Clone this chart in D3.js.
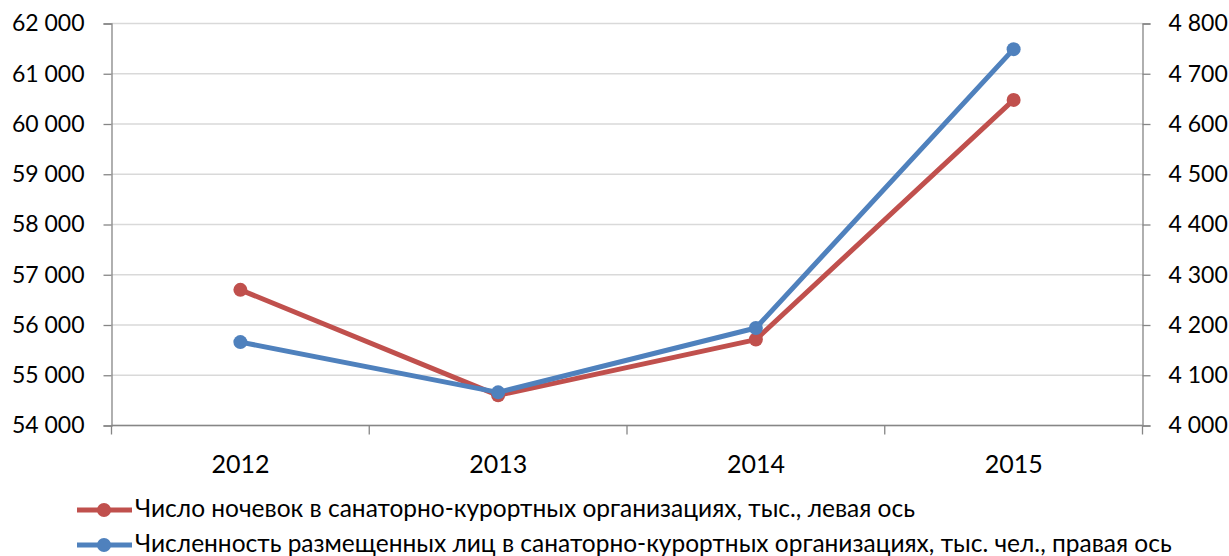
<!DOCTYPE html>
<html><head><meta charset="utf-8">
<script src="https://cdn.jsdelivr.net/npm/d3@7"></script>
<style>
html,body{margin:0;padding:0;background:#fff;}
text{font-family:Lato,"Open Sans",sans-serif;fill:#000;}
</style></head>
<body><svg id="c" width="1229" height="556"></svg>
<script>
const categories = ["2012","2013","2014","2015"];
const nightsValues = [56700, 54600, 55710, 60480];   // left axis
const guestsValues = [4166, 4066, 4194, 4749];       // right axis
const leftTicks = [54000,55000,56000,57000,58000,59000,60000,61000,62000];
const rightTicks = [4000,4100,4200,4300,4400,4500,4600,4700,4800];
const seriesNames = [
  "Число ночевок в санаторно-курортных организациях, тыс., левая ось",
  "Численность размещенных лиц в санаторно-курортных организациях, тыс. чел., правая ось"
];
const colors = ["#C0504D", "#4F81BD"];

const svg = d3.select("#c");
const L = 111.5, R = 1142.5, T = 23.5, B = 425.5;
const x = d3.scaleBand().domain(categories).range([L, R]);
const yL = d3.scaleLinear().domain([54000, 62000]).range([B, T]);
const yR = d3.scaleLinear().domain([4000, 4800]).range([B, T]);
const fmt = v => d3.format(",")(v).replace(/,/g, "\u00a0");

// gridlines
svg.append("g").selectAll("line").data(leftTicks).join("line")
  .attr("x1", L).attr("x2", R).attr("y1", d => yL(d)).attr("y2", d => yL(d))
  .attr("stroke", "#D9D9D9").attr("stroke-width", 1.3);

// left axis
const gL = svg.append("g").attr("transform", `translate(${L},0)`)
  .call(d3.axisLeft(yL).tickValues(leftTicks).tickFormat(fmt).tickSize(8).tickPadding(19));
// right axis
const gR = svg.append("g").attr("transform", `translate(${R},0)`)
  .call(d3.axisRight(yR).tickValues(rightTicks).tickFormat(fmt).tickSize(8).tickPadding(18));
// bottom axis
const gB = svg.append("g").attr("transform", `translate(0,${B})`)
  .call(d3.axisBottom(x).tickSize(0).tickPadding(30));
// category boundary ticks
svg.append("g").selectAll("line").data(d3.range(categories.length + 1)).join("line")
  .attr("x1", i => L + i * x.step()).attr("x2", i => L + i * x.step())
  .attr("y1", B).attr("y2", B + 9).attr("stroke", "#868686").attr("stroke-width", 1.3);

[gL, gR, gB].forEach(g => {
  g.selectAll("path.domain").attr("stroke", "#868686").attr("stroke-width", 1.3);
  g.selectAll(".tick line").attr("stroke", "#868686").attr("stroke-width", 1.3);
  g.selectAll("text").style("font-family", "Lato, 'Open Sans', sans-serif")
    .style("font-size", "23px").attr("fill", "#000");
});
gB.selectAll("text").style("font-size", "25px");
gB.selectAll("path.domain").attr("d", `M${L},0H${R}`);

const cx = c => x(c) + x.bandwidth() / 2;
const series = [
  { vals: nightsValues, y: yL, color: colors[0] },
  { vals: guestsValues, y: yR, color: colors[1] }
];
series.forEach(s => {
  const pts = categories.map((c, i) => [cx(c), s.y(s.vals[i])]);
  svg.append("path").attr("d", d3.line()(pts)).attr("fill", "none")
    .attr("stroke", s.color).attr("stroke-width", 5).attr("stroke-linejoin", "round");
  svg.append("g").selectAll("circle").data(pts).join("circle")
    .attr("cx", d => d[0]).attr("cy", d => d[1]).attr("r", 7).attr("fill", s.color);
});

// legend
const leg = svg.append("g");
seriesNames.forEach((name, i) => {
  const yy = 510 + i * 35;
  leg.append("line").attr("x1", 77).attr("x2", 132).attr("y1", yy).attr("y2", yy)
    .attr("stroke", colors[i]).attr("stroke-width", 5);
  leg.append("circle").attr("cx", 104).attr("cy", yy).attr("r", 7).attr("fill", colors[i]);
  leg.append("text").attr("x", 135).attr("y", yy + 7).style("font-size", "24.5px").text(name);
});
</script></body></html>
